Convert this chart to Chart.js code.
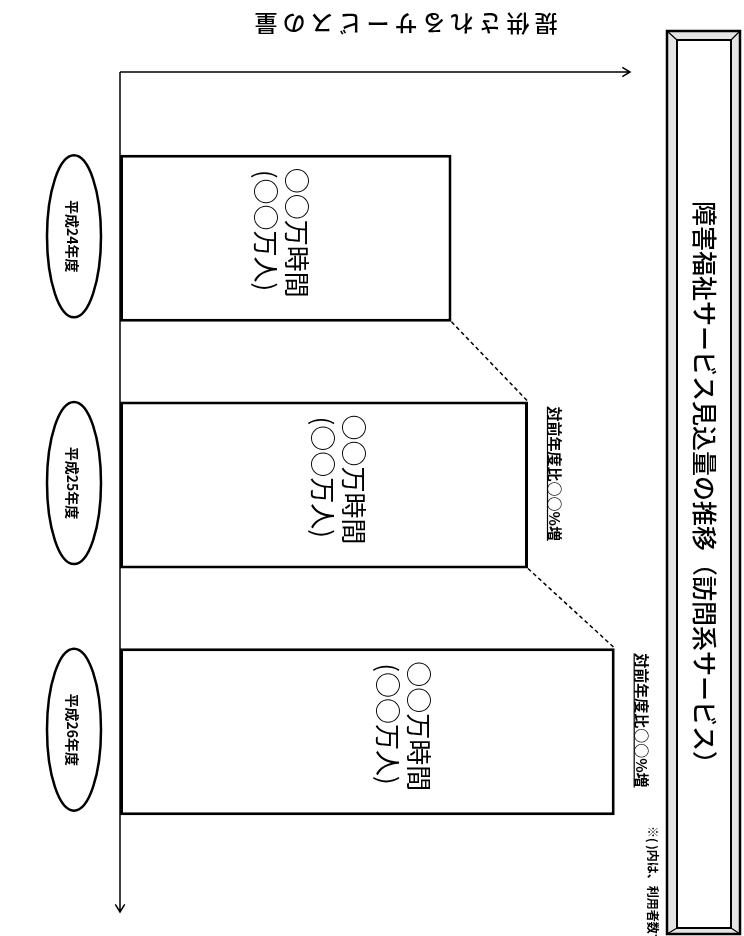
<!DOCTYPE html>
<html lang="ja">
<head>
<meta charset="UTF-8">
<title>障害福祉サービス見込量の推移</title>
<script src="https://cdn.jsdelivr.net/npm/chart.js"></script>
<style>
  html, body { margin: 0; padding: 0; background: #fff; overflow: hidden; }
  canvas { display: block; }
</style>
</head>
<body>
<canvas id="grafico" width="744" height="936"></canvas>
<script>
    // dados do gráfico (valores ilustrativos)
    const categorias = ['平成24年度', '平成25年度', '平成26年度'];
    const servicoQtd = [65, 80, 97];
    const rotuloHoras = ['○○万時間', '○○万時間', '○○万時間'];
    const rotuloPessoas = ['(○○万人)', '(○○万人)', '(○○万人)'];
    const rotuloAumento = ['', '対前年度比○○%増', '対前年度比○○%増'];
    const tituloEixo = '提供されるサービスの量';
    const tituloGrafico = '障害福祉サービス見込量の推移（訪問系サービス）';
    const notaRodape = '※( )内は、利用者数である';

    const FONTE = '"Noto Sans CJK JP", "Noto Sans", sans-serif';

    // texto girado 90 graus (lido de cima para baixo)
    function textoGirado(ctx, texto, x, y, fonte, alinhar, angulo) {
        ctx.save();
        ctx.translate(x, y);
        ctx.rotate(angulo === undefined ? Math.PI / 2 : angulo);
        ctx.font = fonte;
        ctx.textAlign = alinhar || 'left';
        ctx.textBaseline = 'middle';
        ctx.fillText(texto, 0, 0);
        ctx.restore();
    }

    function seta(ctx, x1, y1, x2, y2) {
        const ang = Math.atan2(y2 - y1, x2 - x1);
        ctx.beginPath();
        ctx.moveTo(x1, y1);
        ctx.lineTo(x2, y2);
        ctx.moveTo(x2 - 9 * Math.cos(ang - 0.55), y2 - 9 * Math.sin(ang - 0.55));
        ctx.lineTo(x2, y2);
        ctx.lineTo(x2 - 9 * Math.cos(ang + 0.55), y2 - 9 * Math.sin(ang + 0.55));
        ctx.stroke();
    }

    const decoracao = {
        id: 'decoracao',
        afterDatasetsDraw(chart) {
            const ctx = chart.ctx;
            const area = chart.chartArea;
            const barras = chart.getDatasetMeta(0).data;
            ctx.save();
            ctx.fillStyle = '#000';
            ctx.strokeStyle = '#000';

            // eixos com setas
            const yEixo = area.top - 43;
            ctx.lineWidth = 1.5;
            seta(ctx, area.left, yEixo, area.right, yEixo);
            seta(ctx, area.left, yEixo, area.left, area.bottom + 57);

            // título do eixo de valores (de cabeça para baixo)
            const passo = 28;
            const xIni = 560;
            for (let i = 0; i < tituloEixo.length; i++) {
                const cx = xIni - passo * i - passo / 2;
                textoGirado(ctx, tituloEixo[i], cx, 24, '500 23px ' + FONTE, 'center', Math.PI);
            }

            barras.forEach((b, i) => {
                const topo = b.y - b.height / 2;
                const fundo = b.y + b.height / 2;
                const compr = b.x - b.base;

                // rótulos dentro das barras
                const x1 = b.base + compr * 0.75 - 72;
                textoGirado(ctx, rotuloHoras[i], x1, topo + 13, '26px ' + FONTE);
                textoGirado(ctx, rotuloPessoas[i], x1 - 31, topo + 15, '26px ' + FONTE);

                // elipse com a categoria
                ctx.lineWidth = 2.5;
                ctx.beginPath();
                ctx.ellipse(74, b.y - 2, 27, 81, 0, 0, Math.PI * 2);
                ctx.stroke();
                textoGirado(ctx, categorias[i], 72, b.y - 2, 'bold 14px ' + FONTE, 'center');

                // aumento em relação ao ano anterior
                if (rotuloAumento[i]) {
                    const fonte = 'bold 15px ' + FONTE;
                    textoGirado(ctx, rotuloAumento[i], b.x + 27, topo + 5, fonte);
                    ctx.font = fonte;
                    const w = ctx.measureText(rotuloAumento[i]).width;
                    ctx.lineWidth = 1.2;
                    ctx.beginPath();
                    ctx.moveTo(b.x + 19.5, topo + 5);
                    ctx.lineTo(b.x + 19.5, topo + 5 + w);
                    ctx.stroke();
                }

                // linha tracejada ligando as barras
                if (i < barras.length - 1) {
                    const prox = barras[i + 1];
                    ctx.save();
                    ctx.lineWidth = 1.5;
                    ctx.setLineDash([4, 3]);
                    ctx.beginPath();
                    ctx.moveTo(b.x, fundo);
                    ctx.lineTo(prox.x, prox.y - prox.height / 2);
                    ctx.stroke();
                    ctx.restore();
                }
            });

            // caixa do título com moldura chanfrada
            const ox1 = 667, oy1 = 31, ox2 = 740, oy2 = 934;
            const ix1 = 677, iy1 = 40, ix2 = 731, iy2 = 928;
            ctx.fillStyle = '#e4e4e4';
            ctx.fillRect(ox1, oy1, ox2 - ox1, oy2 - oy1);
            ctx.fillStyle = '#fff';
            ctx.fillRect(ix1, iy1, ix2 - ix1, iy2 - iy1);
            ctx.lineWidth = 2.5;
            ctx.strokeRect(ox1, oy1, ox2 - ox1, oy2 - oy1);
            ctx.lineWidth = 2;
            ctx.strokeRect(ix1, iy1, ix2 - ix1, iy2 - iy1);
            ctx.lineWidth = 1.2;
            ctx.beginPath();
            ctx.moveTo(ox1, oy1); ctx.lineTo(ix1, iy1);
            ctx.moveTo(ox2, oy1); ctx.lineTo(ix2, iy1);
            ctx.moveTo(ox1, oy2); ctx.lineTo(ix1, iy2);
            ctx.moveTo(ox2, oy2); ctx.lineTo(ix2, iy2);
            ctx.stroke();
            ctx.fillStyle = '#000';
            textoGirado(ctx, tituloGrafico, (ix1 + ix2) / 2, (oy1 + oy2) / 2 + 6, '500 25px ' + FONTE, 'center');

            // nota de rodapé
            textoGirado(ctx, notaRodape, 653, 826, 'bold 12px ' + FONTE);

            ctx.restore();
        }
    };

    new Chart(document.getElementById('grafico'), {
        type: 'bar',
        data: {
            labels: categorias,
            datasets: [{
                label: tituloEixo,
                data: servicoQtd,
                backgroundColor: '#fff',
                borderColor: '#000',
                borderWidth: 3,
                borderSkipped: false,
                barPercentage: 0.677,
                categoryPercentage: 1
            }]
        },
        plugins: [decoracao],
        options: {
            indexAxis: 'y',
            responsive: false,
            animation: false,
            layout: {
                padding: { left: 120, right: 114, top: 115, bottom: 81 }
            },
            scales: {
                x: { display: false, min: 0, max: 100 },
                y: { display: false }
            },
            plugins: {
                legend: { display: false },
                tooltip: { enabled: false },
                title: { display: false }
            }
        }
    });
</script>
</body>
</html>
